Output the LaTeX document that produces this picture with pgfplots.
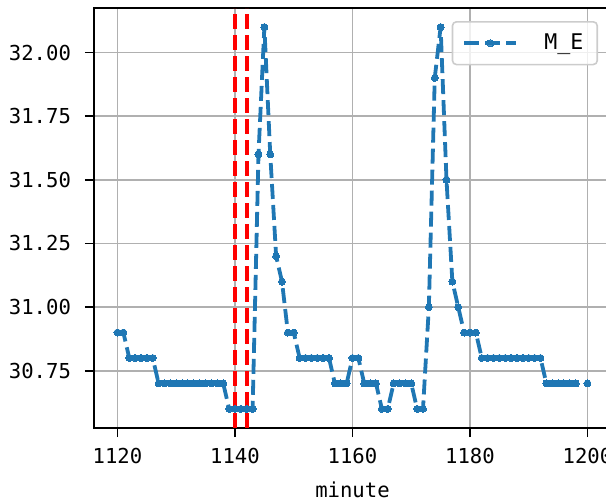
\documentclass[border=0pt]{standalone}
\usepackage{fontspec}
\setmainfont{DejaVu Sans Mono}
\usepackage{pgfplots}
\pgfplotsset{compat=1.18}
\definecolor{mplblue}{RGB}{31,119,180}
\definecolor{gridc}{RGB}{176,176,176}
\definecolor{legc}{RGB}{204,204,204}
\pgfplotstableread{
x y
1120 30.9
1121 30.9
1122 30.8
1123 30.8
1124 30.8
1125 30.8
1126 30.8
1127 30.7
1128 30.7
1129 30.7
1130 30.7
1131 30.7
1132 30.7
1133 30.7
1134 30.7
1135 30.7
1136 30.7
1137 30.7
1138 30.7
1139 30.6
1140 30.6
1141 30.6
1142 30.6
1143 30.6
1144 31.6
1145 32.1
1146 31.6
1147 31.2
1148 31.1
1149 30.9
1150 30.9
1151 30.8
1152 30.8
1153 30.8
1154 30.8
1155 30.8
1156 30.8
1157 30.7
1158 30.7
1159 30.7
1160 30.8
1161 30.8
1162 30.7
1163 30.7
1164 30.7
1165 30.6
1166 30.6
1167 30.7
1168 30.7
1169 30.7
1170 30.7
1171 30.6
1172 30.6
1173 31.0
1174 31.9
1175 32.1
1176 31.5
1177 31.1
1178 31.0
1179 30.9
1180 30.9
1181 30.9
1182 30.8
1183 30.8
1184 30.8
1185 30.8
1186 30.8
1187 30.8
1188 30.8
1189 30.8
1190 30.8
1191 30.8
1192 30.8
1193 30.7
1194 30.7
1195 30.7
1196 30.7
1197 30.7
1198 30.7
1199 nan
1200 30.7
}\dataME
\begin{document}
\begin{tikzpicture}
\begin{axis}[
  scale only axis, width=258.5pt, height=210pt,
  xmin=1116, xmax=1204, ymin=30.525, ymax=32.175,
  xtick={1120,1140,1160,1180,1200},
  ytick={30.75,31,31.25,31.5,31.75,32},
  xticklabel style={/pgf/number format/1000 sep={}, yshift=-2pt},
  yticklabel style={/pgf/number format/.cd, fixed, fixed zerofill, precision=2, /tikz/xshift=-3.5pt},
  /pgf/number format/assume math mode=true,
  tick label style={font=\fontsize{10.3pt}{12pt}\selectfont, black},
  label style={font=\fontsize{10.3pt}{12pt}\selectfont},
  xlabel={minute},
  xlabel style={yshift=-2pt},
  grid=major,
  major grid style={gridc, line width=0.9pt},
  axis line style={black, line width=1pt},
  tick align=outside, major tick length=4.5pt,
  tick style={black, line width=0.9pt},
  xtick pos=bottom, ytick pos=left,
  unbounded coords=jump,
  legend style={at={(0.975,0.969)}, anchor=north east, draw=legc, line width=0.8pt,
    rounded corners=2pt, fill=white, fill opacity=0.8, text opacity=1,
    font=\fontsize{10.8pt}{12pt}\selectfont, inner xsep=5pt, inner ysep=4pt},
  legend image code/.code={
    \draw[mark repeat=2, mark phase=2] plot coordinates {(0pt,0pt) (13pt,0pt) (26pt,0pt)};
  },
]
\addplot[mplblue, line width=1.9pt, dash pattern=on 7.5pt off 3pt,
  mark=*, mark size=1.75pt, mark options={solid, fill=mplblue, draw=mplblue, line width=0pt}]
  table[x=x, y=y] {\dataME};
\addlegendentry{\hspace{11pt}M\_E}
\addplot[red, line width=1.9pt, dash pattern=on 7.5pt off 3pt, forget plot]
  coordinates {(1140,30.525) (1140,32.175)};
\addplot[red, line width=1.9pt, dash pattern=on 7.5pt off 3pt, forget plot]
  coordinates {(1142,30.525) (1142,32.175)};
\end{axis}
\pgfresetboundingbox
\path (-47pt,-37.5pt) rectangle (256pt,214pt);
\end{tikzpicture}
\end{document}
